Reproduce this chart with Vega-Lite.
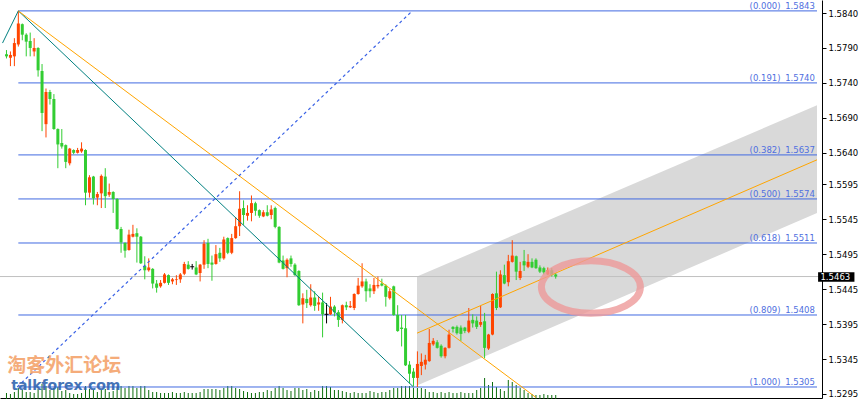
{
  "$schema": "https://vega.github.io/schema/vega-lite/v6.json",
  "width": 822,
  "height": 398,
  "autosize": {"type": "none"},
  "padding": {"left": 0, "top": 0, "right": 42, "bottom": 1},
  "background": "#ffffff",
  "view": {"stroke": null},
  "config": {
    "font": "DejaVu Sans",
    "axis": {"labelOverlap": false},
    "axisX": {"domain": true, "domainColor": "#000000", "domainWidth": 1, "ticks": false, "labels": false, "grid": false, "titleOpacity": 0},
    "axisY": {"grid": false, "titleOpacity": 0, "labelOverlap": false}
  },
  "datasets": {
    "candles": [
      {"k":0,"o":1.5781,"h":1.5787,"l":1.5775,"c":1.5778,"vol":500},
      {"k":1,"o":1.5776,"h":1.5785,"l":1.5764,"c":1.5780,"vol":400},
      {"k":2,"o":1.5778,"h":1.5804,"l":1.5764,"c":1.5797,"vol":600},
      {"k":3,"o":1.5795,"h":1.5843,"l":1.5792,"c":1.5825,"vol":1000},
      {"k":4,"o":1.5824,"h":1.5825,"l":1.5801,"c":1.5809,"vol":800},
      {"k":5,"o":1.5809,"h":1.5811,"l":1.5778,"c":1.5799,"vol":600},
      {"k":6,"o":1.5800,"h":1.5812,"l":1.5778,"c":1.5790,"vol":600},
      {"k":7,"o":1.5785,"h":1.5804,"l":1.5778,"c":1.5790,"vol":500},
      {"k":8,"o":1.5790,"h":1.5791,"l":1.5749,"c":1.5758,"vol":900},
      {"k":9,"o":1.5757,"h":1.5767,"l":1.5671,"c":1.5697,"vol":1400},
      {"k":10,"o":1.5681,"h":1.5732,"l":1.5662,"c":1.5727,"vol":1200},
      {"k":11,"o":1.5727,"h":1.5730,"l":1.5709,"c":1.5717,"vol":800},
      {"k":12,"o":1.5717,"h":1.5724,"l":1.5673,"c":1.5674,"vol":1000},
      {"k":13,"o":1.5674,"h":1.5675,"l":1.5618,"c":1.5652,"vol":1100},
      {"k":14,"o":1.5654,"h":1.5674,"l":1.5646,"c":1.5649,"vol":700},
      {"k":15,"o":1.5651,"h":1.5652,"l":1.5618,"c":1.5627,"vol":800},
      {"k":16,"o":1.5625,"h":1.5647,"l":1.5622,"c":1.5646,"vol":500},
      {"k":17,"o":1.5644,"h":1.5645,"l":1.5638,"c":1.5640,"vol":400},
      {"k":18,"o":1.5640,"h":1.5647,"l":1.5639,"c":1.5644,"vol":400},
      {"k":19,"o":1.5642,"h":1.5655,"l":1.5640,"c":1.5646,"vol":500},
      {"k":20,"o":1.5644,"h":1.5645,"l":1.5565,"c":1.5583,"vol":1200},
      {"k":21,"o":1.5583,"h":1.5608,"l":1.5576,"c":1.5605,"vol":900},
      {"k":22,"o":1.5606,"h":1.5607,"l":1.5566,"c":1.5575,"vol":800},
      {"k":23,"o":1.5576,"h":1.5584,"l":1.5565,"c":1.5581,"vol":600},
      {"k":24,"o":1.5582,"h":1.5609,"l":1.5561,"c":1.5607,"vol":800},
      {"k":25,"o":1.5606,"h":1.5618,"l":1.5561,"c":1.5578,"vol":900},
      {"k":26,"o":1.5580,"h":1.5596,"l":1.5577,"c":1.5584,"vol":600},
      {"k":27,"o":1.5584,"h":1.5585,"l":1.5554,"c":1.5574,"vol":700},
      {"k":28,"o":1.5574,"h":1.5575,"l":1.5530,"c":1.5531,"vol":1100},
      {"k":29,"o":1.5531,"h":1.5534,"l":1.5497,"c":1.5512,"vol":1200},
      {"k":30,"o":1.5511,"h":1.5512,"l":1.5490,"c":1.5500,"vol":1000},
      {"k":31,"o":1.5501,"h":1.5530,"l":1.5500,"c":1.5523,"vol":1200},
      {"k":32,"o":1.5520,"h":1.5537,"l":1.5519,"c":1.5524,"vol":1200},
      {"k":33,"o":1.5525,"h":1.5532,"l":1.5483,"c":1.5520,"vol":1000},
      {"k":34,"o":1.5520,"h":1.5521,"l":1.5481,"c":1.5482,"vol":1200},
      {"k":35,"o":1.5478,"h":1.5492,"l":1.5459,"c":1.5472,"vol":1200},
      {"k":36,"o":1.5472,"h":1.5489,"l":1.5470,"c":1.5476,"vol":800},
      {"k":37,"o":1.5474,"h":1.5475,"l":1.5446,"c":1.5453,"vol":600},
      {"k":38,"o":1.5453,"h":1.5458,"l":1.5440,"c":1.5447,"vol":600},
      {"k":39,"o":1.5449,"h":1.5458,"l":1.5447,"c":1.5454,"vol":500},
      {"k":40,"o":1.5454,"h":1.5468,"l":1.5453,"c":1.5466,"vol":500},
      {"k":41,"o":1.5465,"h":1.5466,"l":1.5451,"c":1.5454,"vol":500},
      {"k":42,"o":1.5456,"h":1.5461,"l":1.5452,"c":1.5459,"vol":600},
      {"k":43,"o":1.5458,"h":1.5465,"l":1.5451,"c":1.5459,"vol":500},
      {"k":44,"o":1.5459,"h":1.5468,"l":1.5454,"c":1.5466,"vol":500},
      {"k":45,"o":1.5467,"h":1.5484,"l":1.5465,"c":1.5481,"vol":600},
      {"k":46,"o":1.5480,"h":1.5485,"l":1.5473,"c":1.5474,"vol":500},
      {"k":47,"o":1.5477,"h":1.5481,"l":1.5473,"c":1.5477,"vol":500},
      {"k":48,"o":1.5476,"h":1.5485,"l":1.5465,"c":1.5466,"vol":500},
      {"k":49,"o":1.5468,"h":1.5481,"l":1.5456,"c":1.5480,"vol":600},
      {"k":50,"o":1.5480,"h":1.5515,"l":1.5474,"c":1.5510,"vol":900},
      {"k":51,"o":1.5511,"h":1.5517,"l":1.5475,"c":1.5481,"vol":900},
      {"k":52,"o":1.5483,"h":1.5493,"l":1.5457,"c":1.5480,"vol":900},
      {"k":53,"o":1.5481,"h":1.5508,"l":1.5480,"c":1.5495,"vol":900},
      {"k":54,"o":1.5497,"h":1.5504,"l":1.5484,"c":1.5489,"vol":800},
      {"k":55,"o":1.5489,"h":1.5520,"l":1.5487,"c":1.5516,"vol":1000},
      {"k":56,"o":1.5518,"h":1.5519,"l":1.5495,"c":1.5497,"vol":1200},
      {"k":57,"o":1.5497,"h":1.5524,"l":1.5495,"c":1.5518,"vol":1200},
      {"k":58,"o":1.5518,"h":1.5548,"l":1.5517,"c":1.5535,"vol":1000},
      {"k":59,"o":1.5535,"h":1.5585,"l":1.5521,"c":1.5560,"vol":900},
      {"k":60,"o":1.5561,"h":1.5572,"l":1.5537,"c":1.5551,"vol":700},
      {"k":61,"o":1.5550,"h":1.5565,"l":1.5543,"c":1.5554,"vol":600},
      {"k":62,"o":1.5554,"h":1.5579,"l":1.5542,"c":1.5568,"vol":500},
      {"k":63,"o":1.5568,"h":1.5570,"l":1.5550,"c":1.5557,"vol":500},
      {"k":64,"o":1.5558,"h":1.5559,"l":1.5547,"c":1.5550,"vol":600},
      {"k":65,"o":1.5549,"h":1.5558,"l":1.5548,"c":1.5555,"vol":600},
      {"k":66,"o":1.5555,"h":1.5565,"l":1.5549,"c":1.5550,"vol":800},
      {"k":67,"o":1.5551,"h":1.5565,"l":1.5545,"c":1.5559,"vol":700},
      {"k":68,"o":1.5561,"h":1.5563,"l":1.5532,"c":1.5534,"vol":1000},
      {"k":69,"o":1.5534,"h":1.5535,"l":1.5482,"c":1.5483,"vol":1200},
      {"k":70,"o":1.5486,"h":1.5493,"l":1.5473,"c":1.5474,"vol":1000},
      {"k":71,"o":1.5475,"h":1.5489,"l":1.5462,"c":1.5487,"vol":800},
      {"k":72,"o":1.5489,"h":1.5493,"l":1.5477,"c":1.5481,"vol":700},
      {"k":73,"o":1.5480,"h":1.5482,"l":1.5464,"c":1.5465,"vol":1000},
      {"k":74,"o":1.5471,"h":1.5472,"l":1.5421,"c":1.5422,"vol":1000},
      {"k":75,"o":1.5423,"h":1.5439,"l":1.5396,"c":1.5432,"vol":800},
      {"k":76,"o":1.5431,"h":1.5444,"l":1.5418,"c":1.5425,"vol":900},
      {"k":77,"o":1.5422,"h":1.5452,"l":1.5420,"c":1.5433,"vol":600},
      {"k":78,"o":1.5433,"h":1.5442,"l":1.5414,"c":1.5421,"vol":800},
      {"k":79,"o":1.5423,"h":1.5434,"l":1.5414,"c":1.5426,"vol":700},
      {"k":80,"o":1.5426,"h":1.5440,"l":1.5376,"c":1.5409,"vol":1200},
      {"k":81,"o":1.5409,"h":1.5425,"l":1.5396,"c":1.5409,"vol":1200},
      {"k":82,"o":1.5409,"h":1.5434,"l":1.5408,"c":1.5420,"vol":1100},
      {"k":83,"o":1.5420,"h":1.5422,"l":1.5406,"c":1.5412,"vol":800},
      {"k":84,"o":1.5412,"h":1.5415,"l":1.5391,"c":1.5401,"vol":800},
      {"k":85,"o":1.5401,"h":1.5423,"l":1.5396,"c":1.5422,"vol":700},
      {"k":86,"o":1.5422,"h":1.5427,"l":1.5415,"c":1.5419,"vol":600},
      {"k":87,"o":1.5419,"h":1.5428,"l":1.5418,"c":1.5421,"vol":500},
      {"k":88,"o":1.5418,"h":1.5439,"l":1.5415,"c":1.5438,"vol":600},
      {"k":89,"o":1.5438,"h":1.5461,"l":1.5437,"c":1.5450,"vol":500},
      {"k":90,"o":1.5449,"h":1.5482,"l":1.5447,"c":1.5456,"vol":500},
      {"k":91,"o":1.5456,"h":1.5460,"l":1.5427,"c":1.5442,"vol":500},
      {"k":92,"o":1.5446,"h":1.5452,"l":1.5433,"c":1.5442,"vol":700},
      {"k":93,"o":1.5442,"h":1.5461,"l":1.5438,"c":1.5451,"vol":600},
      {"k":94,"o":1.5449,"h":1.5463,"l":1.5446,"c":1.5451,"vol":500},
      {"k":95,"o":1.5453,"h":1.5460,"l":1.5449,"c":1.5450,"vol":600},
      {"k":96,"o":1.5450,"h":1.5452,"l":1.5420,"c":1.5434,"vol":600},
      {"k":97,"o":1.5432,"h":1.5446,"l":1.5430,"c":1.5442,"vol":800},
      {"k":98,"o":1.5449,"h":1.5450,"l":1.5407,"c":1.5408,"vol":1000},
      {"k":99,"o":1.5408,"h":1.5422,"l":1.5384,"c":1.5385,"vol":1000},
      {"k":100,"o":1.5390,"h":1.5408,"l":1.5363,"c":1.5388,"vol":1200},
      {"k":101,"o":1.5389,"h":1.5408,"l":1.5335,"c":1.5336,"vol":1200},
      {"k":102,"o":1.5337,"h":1.5342,"l":1.5310,"c":1.5324,"vol":1200},
      {"k":103,"o":1.5327,"h":1.5332,"l":1.5306,"c":1.5318,"vol":1000},
      {"k":104,"o":1.5318,"h":1.5356,"l":1.5305,"c":1.5338,"vol":1000},
      {"k":105,"o":1.5335,"h":1.5353,"l":1.5322,"c":1.5341,"vol":1000},
      {"k":106,"o":1.5337,"h":1.5351,"l":1.5330,"c":1.5344,"vol":900},
      {"k":107,"o":1.5342,"h":1.5388,"l":1.5341,"c":1.5368,"vol":600},
      {"k":108,"o":1.5366,"h":1.5375,"l":1.5364,"c":1.5371,"vol":600},
      {"k":109,"o":1.5369,"h":1.5372,"l":1.5360,"c":1.5361,"vol":500},
      {"k":110,"o":1.5364,"h":1.5366,"l":1.5347,"c":1.5349,"vol":600},
      {"k":111,"o":1.5349,"h":1.5362,"l":1.5346,"c":1.5361,"vol":500},
      {"k":112,"o":1.5361,"h":1.5387,"l":1.5360,"c":1.5380,"vol":600},
      {"k":113,"o":1.5391,"h":1.5392,"l":1.5383,"c":1.5388,"vol":500},
      {"k":114,"o":1.5391,"h":1.5393,"l":1.5380,"c":1.5382,"vol":500},
      {"k":115,"o":1.5390,"h":1.5393,"l":1.5371,"c":1.5381,"vol":600},
      {"k":116,"o":1.5390,"h":1.5391,"l":1.5382,"c":1.5385,"vol":500},
      {"k":117,"o":1.5384,"h":1.5418,"l":1.5382,"c":1.5400,"vol":500},
      {"k":118,"o":1.5401,"h":1.5409,"l":1.5390,"c":1.5396,"vol":500},
      {"k":119,"o":1.5400,"h":1.5406,"l":1.5388,"c":1.5391,"vol":800},
      {"k":120,"o":1.5394,"h":1.5421,"l":1.5391,"c":1.5398,"vol":1000},
      {"k":121,"o":1.5399,"h":1.5411,"l":1.5346,"c":1.5361,"vol":2000},
      {"k":122,"o":1.5360,"h":1.5381,"l":1.5358,"c":1.5380,"vol":1300},
      {"k":123,"o":1.5380,"h":1.5439,"l":1.5379,"c":1.5438,"vol":1600},
      {"k":124,"o":1.5439,"h":1.5470,"l":1.5415,"c":1.5418,"vol":1100},
      {"k":125,"o":1.5419,"h":1.5472,"l":1.5418,"c":1.5466,"vol":900},
      {"k":126,"o":1.5465,"h":1.5480,"l":1.5452,"c":1.5453,"vol":700},
      {"k":127,"o":1.5455,"h":1.5494,"l":1.5449,"c":1.5485,"vol":1800},
      {"k":128,"o":1.5484,"h":1.5515,"l":1.5483,"c":1.5493,"vol":1600},
      {"k":129,"o":1.5492,"h":1.5493,"l":1.5458,"c":1.5470,"vol":1300},
      {"k":130,"o":1.5461,"h":1.5484,"l":1.5458,"c":1.5471,"vol":1000},
      {"k":131,"o":1.5485,"h":1.5501,"l":1.5471,"c":1.5479,"vol":800},
      {"k":132,"o":1.5477,"h":1.5495,"l":1.5475,"c":1.5484,"vol":500},
      {"k":133,"o":1.5484,"h":1.5489,"l":1.5475,"c":1.5476,"vol":400},
      {"k":134,"o":1.5487,"h":1.5489,"l":1.5474,"c":1.5475,"vol":300},
      {"k":135,"o":1.5476,"h":1.5479,"l":1.5468,"c":1.5470,"vol":300},
      {"k":136,"o":1.5475,"h":1.5477,"l":1.5466,"c":1.5469,"vol":400},
      {"k":137,"o":1.5466,"h":1.5476,"l":1.5465,"c":1.5472,"vol":300},
      {"k":138,"o":1.5472,"h":1.5475,"l":1.5463,"c":1.5465,"vol":300},
      {"k":139,"o":1.5466,"h":1.5468,"l":1.5460,"c":1.5463,"vol":300}
    ],
    "fib": [
      {"ratio": "(0.000)", "price": 1.5843},
      {"ratio": "(0.191)", "price": 1.5740},
      {"ratio": "(0.382)", "price": 1.5637},
      {"ratio": "(0.500)", "price": 1.5574},
      {"ratio": "(0.618)", "price": 1.5511},
      {"ratio": "(0.809)", "price": 1.5408},
      {"ratio": "(1.000)", "price": 1.5305}
    ]
  },
  "layer": [
    {
      "data": {"values": [{"k": 103.9, "upper": 1.5463, "lower": 1.5307}, {"k": 205.125, "upper": 1.5708, "lower": 1.5554}]},
      "mark": {"type": "area", "color": "#d9d9d9", "opacity": 1},
      "encoding": {
        "x": {"field": "k", "type": "quantitative", "scale": {"domain": [-0.375, 205.125], "nice": false, "zero": false}, "axis": {"title": null, "labels": false, "ticks": false, "grid": false, "domainColor": "#000000"}},
        "y": {"field": "upper", "type": "quantitative", "scale": {"domain": [1.528926, 1.58586], "nice": false, "zero": false},
          "axis": {"orient": "right", "title": null, "values": [1.584, 1.579, 1.574, 1.569, 1.564, 1.5595, 1.5545, 1.5495, 1.5445, 1.5395, 1.5345, 1.5295], "tickCount": 30, "format": ".4f", "labelFont": "DejaVu Sans", "labelFontSize": 8.5, "labelColor": "#000000", "tickSize": 4, "tickColor": "#000000", "domainColor": "#000000", "labelPadding": 2, "labelFlush": false, "labelOverlap": false, "labelBound": false, "grid": false}},
        "y2": {"field": "lower"}
      }
    },
    {
      "data": {"name": "candles"},
      "mark": {"type": "tick", "orient": "vertical", "thickness": 1, "color": "#0d6e0d", "opacity": 1},
      "encoding": {
        "x": {"field": "k", "type": "quantitative"},
        "y": {"datum": 1.528926, "type": "quantitative"},
        "size": {"field": "vol", "type": "quantitative", "scale": {"domain": [0, 1000], "range": [0, 20], "zero": true}, "legend": null}
      }
    },
    {
      "data": {"name": "fib"},
      "mark": {"type": "rule", "color": "#4169e1", "strokeWidth": 1},
      "encoding": {
        "x": {"datum": 3, "type": "quantitative"},
        "x2": {"datum": 205.125},
        "y": {"field": "price", "type": "quantitative"}
      }
    },
    {
      "data": {"values": [{"price": 1.5463}]},
      "mark": {"type": "rule", "color": "#c0c0c0", "strokeWidth": 1},
      "encoding": {"y": {"field": "price", "type": "quantitative"}}
    },
    {
      "data": {"name": "candles"},
      "transform": [{"calculate": "datum.c > datum.o ? 'up' : (datum.c < datum.o ? 'down' : 'flat')", "as": "dir"}],
      "layer": [
        {
          "mark": {"type": "rule", "strokeWidth": 1},
          "encoding": {
            "x": {"field": "k", "type": "quantitative"},
            "y": {"field": "l", "type": "quantitative"},
            "y2": {"field": "h"},
            "color": {"field": "dir", "type": "nominal", "scale": {"domain": ["up", "down", "flat"], "range": ["#ff4500", "#32cd32", "#000000"]}, "legend": null}
          }
        },
        {
          "transform": [{"filter": "datum.dir != 'flat'"}],
          "mark": {"type": "bar", "size": 3},
          "encoding": {
            "x": {"field": "k", "type": "quantitative"},
            "y": {"field": "o", "type": "quantitative"},
            "y2": {"field": "c"},
            "color": {"field": "dir", "type": "nominal", "scale": {"domain": ["up", "down", "flat"], "range": ["#ff4500", "#32cd32", "#000000"]}, "legend": null}
          }
        },
        {
          "transform": [{"filter": "datum.dir == 'flat'"}],
          "mark": {"type": "point", "shape": "stroke", "size": 16, "strokeWidth": 1, "opacity": 1, "color": "#000000"},
          "encoding": {
            "x": {"field": "k", "type": "quantitative"},
            "y": {"field": "o", "type": "quantitative"}
          }
        }
      ]
    },
    {
      "data": {"values": [{"k": -1, "p": 1.5797}, {"k": 3, "p": 1.5843}, {"k": 103, "p": 1.5305}]},
      "mark": {"type": "line", "color": "#008080", "strokeWidth": 1},
      "encoding": {"x": {"field": "k", "type": "quantitative"}, "y": {"field": "p", "type": "quantitative"}}
    },
    {
      "data": {"values": [{"k": 3, "p": 1.5843}, {"k": 134, "p": 1.529}]},
      "mark": {"type": "line", "color": "#ffa500", "strokeWidth": 1},
      "encoding": {"x": {"field": "k", "type": "quantitative"}, "y": {"field": "p", "type": "quantitative"}}
    },
    {
      "data": {"values": [{"k": 2.7, "p": 1.5305}, {"k": 102.7, "p": 1.5843}]},
      "mark": {"type": "line", "color": "#3a62e6", "strokeWidth": 1.2, "strokeDash": [3, 3]},
      "encoding": {"x": {"field": "k", "type": "quantitative"}, "y": {"field": "p", "type": "quantitative"}}
    },
    {
      "data": {"values": [{"k": 103.9, "p": 1.5382}, {"k": 205.125, "p": 1.563}]},
      "mark": {"type": "line", "color": "#ffa500", "strokeWidth": 1},
      "encoding": {"x": {"field": "k", "type": "quantitative"}, "y": {"field": "p", "type": "quantitative"}}
    },
    {
      "data": {"values": [{"note": "circle"}]},
      "mark": {"type": "point", "shape": "M -1 0 A 1 0.53 0 1 1 1 0 A 1 0.53 0 1 1 -1 0 Z", "size": 9801, "filled": false, "stroke": "#ee9a9a", "strokeWidth": 7, "opacity": 0.8},
      "encoding": {"x": {"datum": 147.9, "type": "quantitative"}, "y": {"datum": 1.5448, "type": "quantitative"}}
    },
    {
      "data": {"values": [{"t": "淘客外汇论坛"}]},
      "mark": {"type": "text", "align": "left", "baseline": "alphabetic", "font": "Noto Sans CJK SC", "fontWeight": "bold", "fontSize": 19, "color": "#f4a46c", "opacity": 0.9},
      "encoding": {"x": {"datum": 0.2, "type": "quantitative"}, "y": {"datum": 1.5326, "type": "quantitative"}, "text": {"field": "t"}}
    },
    {
      "data": {"values": [{"t": "talkforex.com"}]},
      "mark": {"type": "text", "align": "left", "baseline": "alphabetic", "font": "DejaVu Sans", "fontWeight": "bold", "fontSize": 14, "color": "#3165b0", "opacity": 0.9},
      "encoding": {"x": {"datum": 1.2, "type": "quantitative"}, "y": {"datum": 1.5301, "type": "quantitative"}, "text": {"field": "t"}}
    },
    {
      "data": {"name": "fib"},
      "mark": {"type": "text", "align": "right", "baseline": "alphabetic", "dy": -2, "font": "DejaVu Sans", "fontSize": 8.5, "color": "#4f6fe0"},
      "encoding": {"x": {"datum": 195.9, "type": "quantitative"}, "y": {"field": "price", "type": "quantitative"}, "text": {"field": "ratio"}}
    },
    {
      "data": {"name": "fib"},
      "mark": {"type": "text", "align": "right", "baseline": "alphabetic", "dy": -2, "font": "DejaVu Sans", "fontSize": 8.5, "color": "#4f6fe0"},
      "encoding": {"x": {"datum": 204.6, "type": "quantitative"}, "y": {"field": "price", "type": "quantitative"}, "text": {"field": "price", "format": ".4f"}}
    },
    {
      "data": {"values": [{"price": 1.5463}]},
      "layer": [
        {
          "mark": {"type": "rect", "color": "#000000"},
          "encoding": {"x": {"datum": 205.4, "type": "quantitative"}, "x2": {"datum": 214.6}, "y": {"datum": 1.54692, "type": "quantitative"}, "y2": {"datum": 1.54555}}
        },
        {
          "mark": {"type": "text", "align": "left", "baseline": "middle", "font": "DejaVu Sans", "fontSize": 8.5, "color": "#ffffff"},
          "encoding": {"x": {"datum": 206.0, "type": "quantitative"}, "y": {"field": "price", "type": "quantitative"}, "text": {"field": "price", "format": ".4f"}}
        }
      ]
    }
  ]
}
